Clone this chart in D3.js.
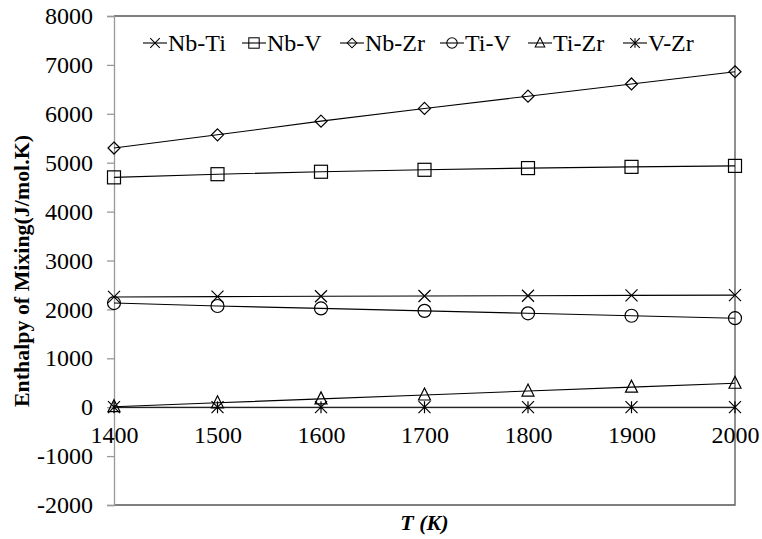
<!DOCTYPE html>
<html>
<head>
<meta charset="utf-8">
<script src="https://cdn.jsdelivr.net/npm/d3@7"></script>
<style>
  body { margin: 0; background: #fff; }
  svg { display: block; font-family: "Liberation Serif", "Times New Roman", serif; }
</style>
</head>
<body>
<div id="chart"></div>
<script>
// data
var temps = [1400, 1500, 1600, 1700, 1800, 1900, 2000];
var nbTi = [2255, 2262, 2268, 2274, 2280, 2286, 2292];
var nbV = [4700, 4765, 4815, 4855, 4890, 4915, 4935];
var nbZr = [5300, 5570, 5850, 6110, 6360, 6610, 6860];
var tiV = [2130, 2070, 2020, 1970, 1920, 1870, 1820];
var tiZr = [10, 90, 170, 250, 330, 410, 490];
var vZr = [0, 0, 0, 0, 0, 0, 0];
var yTicks = [-2000, -1000, 0, 1000, 2000, 3000, 4000, 5000, 6000, 7000, 8000];

var series = [
  {name: 'Nb-Ti', values: nbTi, marker: 'x'},
  {name: 'Nb-V', values: nbV, marker: 'square'},
  {name: 'Nb-Zr', values: nbZr, marker: 'diamond'},
  {name: 'Ti-V', values: tiV, marker: 'circle'},
  {name: 'Ti-Zr', values: tiZr, marker: 'triangle'},
  {name: 'V-Zr', values: vZr, marker: 'star'}
];

var width = 762, height = 539;
var margin = {left: 114, right: 27, top: 16, bottom: 34};

var svg = d3.select('#chart').append('svg')
  .attr('width', width)
  .attr('height', height);

var x = d3.scaleLinear().domain([1400, 2000]).range([margin.left, width - margin.right]);
var y = d3.scaleLinear().domain([-2000, 8000]).range([height - margin.bottom, margin.top]);

// plot border (top, right, bottom)
svg.append('path')
  .attr('d', 'M' + x(1400) + ',' + y(8000) + 'H' + x(2000) + 'V' + y(-2000) + 'H' + x(1400))
  .attr('fill', 'none')
  .attr('stroke', '#555')
  .attr('stroke-width', 1.3);

// y axis
var yAxis = svg.append('g')
  .attr('transform', 'translate(' + x(1400) + ',0)')
  .call(d3.axisLeft(y).tickValues(yTicks).tickSize(7).tickPadding(14).tickFormat(function(d) { return String(d); }));
yAxis.select('.domain').attr('stroke', '#999').attr('stroke-width', 1.3);
yAxis.selectAll('.tick line').attr('stroke', '#999').attr('stroke-width', 1.3);
yAxis.selectAll('text')
  .attr('font-size', 24)
  .attr('fill', '#000')
  .attr('font-family', '"Liberation Serif", serif');

// x axis on the zero line
var xAxis = svg.append('g')
  .attr('transform', 'translate(0,' + y(0) + ')')
  .call(d3.axisBottom(x).tickValues(temps).tickSize(0).tickPadding(19).tickFormat(d3.format('d')));
xAxis.select('.domain').attr('stroke', '#888').attr('stroke-width', 1.3);
xAxis.selectAll('text')
  .attr('font-size', 24)
  .attr('fill', '#000')
  .attr('font-family', '"Liberation Serif", serif');

// axis titles
svg.append('text')
  .attr('transform', 'translate(29,271) rotate(-90)')
  .attr('text-anchor', 'middle')
  .attr('font-size', 21)
  .attr('font-weight', 'bold')
  .attr('textLength', 272)
  .attr('lengthAdjust', 'spacingAndGlyphs')
  .text('Enthalpy of Mixing(J/mol.K)');

svg.append('text')
  .attr('x', (x(1400) + x(2000)) / 2)
  .attr('y', 530)
  .attr('text-anchor', 'middle')
  .attr('font-size', 22)
  .attr('font-weight', 'bold')
  .attr('font-style', 'italic')
  .text('T (K)');

function drawMarker(g, type, s) {
  var h = s / 2;
  if (type == 'x') {
    g.append('path').attr('d', 'M' + (-h) + ',' + (-h) + 'L' + h + ',' + h + 'M' + (-h) + ',' + h + 'L' + h + ',' + (-h));
  } else if (type == 'square') {
    g.append('rect').attr('x', -6.5).attr('y', -6.5).attr('width', 13).attr('height', 13);
  } else if (type == 'diamond') {
    g.append('path').attr('d', 'M0,-6L6,0L0,6L-6,0Z');
  } else if (type == 'circle') {
    g.append('circle').attr('r', 6.5);
  } else if (type == 'triangle') {
    g.append('path').attr('d', 'M0,-7L6,5L-6,5Z');
  } else if (type == 'star') {
    g.append('path').attr('d', 'M' + (-h) + ',' + (-h) + 'L' + h + ',' + h + 'M' + (-h) + ',' + h + 'L' + h + ',' + (-h) + 'M0,' + (-h) + 'L0,' + h);
  }
}

var line = d3.line()
  .x(function(d, i) { return x(temps[i]); })
  .y(function(d) { return y(d); });

series.forEach(function(s) {
  svg.append('path')
    .datum(s.values)
    .attr('d', line)
    .attr('fill', 'none')
    .attr('stroke', '#000')
    .attr('stroke-width', 1.1);

  s.values.forEach(function(v, i) {
    var g = svg.append('g')
      .attr('transform', 'translate(' + x(temps[i]) + ',' + y(v) + ')')
      .attr('fill', 'none')
      .attr('stroke', '#000')
      .attr('stroke-width', 1.2);
    drawMarker(g, s.marker, 12);
  });
});

// legend
var legendX = [143, 242, 340, 440, 528, 623];
series.forEach(function(s, i) {
  var lg = svg.append('g').attr('transform', 'translate(' + legendX[i] + ',43)');
  lg.append('line').attr('x1', 0).attr('x2', 24).attr('stroke', '#000').attr('stroke-width', 1.1);
  var m = lg.append('g')
    .attr('transform', 'translate(12,0) scale(0.8)')
    .attr('fill', 'none')
    .attr('stroke', '#000')
    .attr('stroke-width', 1.3);
  drawMarker(m, s.marker, 12);
  lg.append('text')
    .attr('x', 25)
    .attr('y', 8)
    .attr('font-size', 24)
    .text(s.name);
});
</script>
</body>
</html>
